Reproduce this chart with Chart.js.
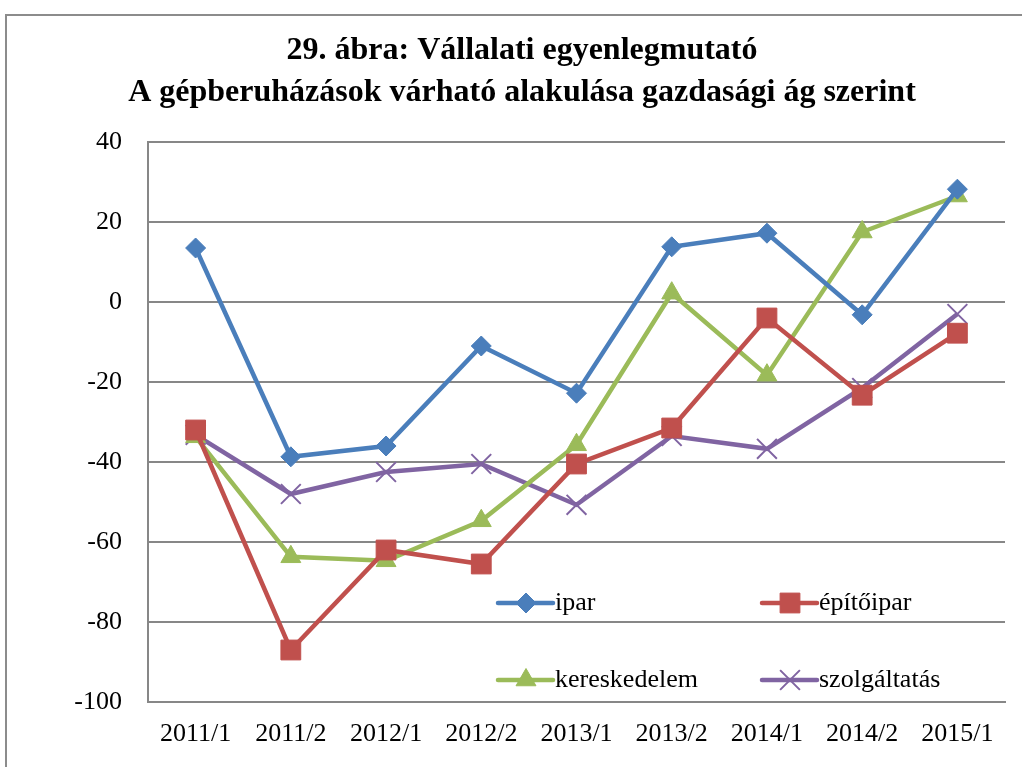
<!DOCTYPE html>
<html>
<head>
<meta charset="utf-8">
<script src="https://cdn.jsdelivr.net/npm/chart.js@4/dist/chart.umd.min.js"></script>
<style>
  html, body { margin: 0; padding: 0; background: #fff; }
  #wrap { position: relative; width: 1022px; height: 767px; }
</style>
</head>
<body>
<div id="wrap"><canvas id="chart" width="1022" height="767"></canvas></div>
<script>
// data
var categories = ['2011/1', '2011/2', '2012/1', '2012/2', '2013/1', '2013/2', '2014/1', '2014/2', '2015/1'];
var ipar = [13.5, -38.7, -36, -11, -22.8, 13.8, 17.2, -3.2, 28.2];
var epitoipar = [-32, -87, -62, -65.5, -40.5, -31.5, -4, -23.3, -7.8];
var kereskedelem = [-33.7, -63.7, -64.7, -54.7, -35.7, 2.2, -18.3, 17.5, 26.5];
var szolgaltatas = [-33.2, -48, -42.5, -40.5, -50.7, -33.5, -36.7, -21.5, -3];
var titleLines = ['29. ábra: Vállalati egyenlegmutató', 'A gépberuházások várható alakulása gazdasági ág szerint'];

var FONT = "'Liberation Serif', 'Times New Roman', serif";
var GRID = '#878787';

function series(label, data, color, style, radius, pbw) {
    return {
        label: label,
        data: data,
        borderColor: color,
        backgroundColor: color,
        borderWidth: 4.5,
        pointStyle: style,
        pointRadius: radius,
        pointHoverRadius: radius,
        pointBorderWidth: pbw,
        pointBorderColor: color,
        pointBackgroundColor: color,
        tension: 0
    };
}

// outer frame + two-line title
var framePlugin = {
    id: 'frame',
    beforeDraw: function (chart) {
        var ctx = chart.ctx;
        ctx.save();
        ctx.fillStyle = '#fff';
        ctx.fillRect(0, 0, chart.width, chart.height);
        ctx.strokeStyle = '#8c8c8c';
        ctx.lineWidth = 2;
        ctx.strokeRect(6, 15, 1040, 800);
        ctx.fillStyle = '#000';
        ctx.font = 'bold 32px ' + FONT;
        ctx.textAlign = 'center';
        ctx.textBaseline = 'middle';
        ctx.fillText(titleLines[0], 522, 51);
        ctx.fillText(titleLines[1], 522, 93);
        ctx.restore();
    }
};

// legend drawn inside the plot, 2 x 2
var legendPlugin = {
    id: 'innerLegend',
    afterDatasetsDraw: function (chart) {
        var ctx = chart.ctx;
        var spots = [[498, 603], [762, 603], [498, 680], [762, 680]];
        ctx.save();
        chart.data.datasets.forEach(function (ds, i) {
            var x = spots[i][0], y = spots[i][1];
            ctx.strokeStyle = ds.borderColor;
            ctx.lineWidth = 4.5;
            ctx.lineCap = 'round';
            ctx.beginPath();
            ctx.moveTo(x, y);
            ctx.lineTo(x + 55, y);
            ctx.stroke();
            ctx.lineCap = 'butt';
            ctx.fillStyle = ds.borderColor;
            ctx.lineWidth = ds.pointBorderWidth;
            Chart.helpers.drawPoint(ctx, {
                pointStyle: ds.pointStyle,
                radius: ds.pointRadius,
                borderWidth: ds.pointBorderWidth,
                rotation: 0
            }, x + 28, y);
            ctx.fillStyle = '#000';
            ctx.font = '26px ' + FONT;
            ctx.textBaseline = 'middle';
            ctx.textAlign = 'left';
            ctx.fillText(ds.label, x + 57, y);
        });
        ctx.restore();
    }
};

var chart = new Chart(document.getElementById('chart'), {
    type: 'line',
    data: {
        labels: categories,
        datasets: [
            series('ipar', ipar, '#4a7ebb', 'rectRot', 10, 1),
            series('építőipar', epitoipar, '#c0504d', 'rect', 14, 1),
            series('kereskedelem', kereskedelem, '#9bbb59', 'triangle', 11.5, 1),
            series('szolgáltatás', szolgaltatas, '#8064a2', 'crossRot', 14, 2)
        ]
    },
    options: {
        responsive: false,
        animation: false,
        events: [],
        layout: { padding: { left: 18, right: 17, top: 142, bottom: 0 } },
        plugins: {
            legend: { display: false },
            tooltip: { enabled: false },
            title: { display: false }
        },
        scales: {
            x: {
                offset: true,
                grid: { display: false, drawTicks: false },
                border: { display: true, color: GRID, width: 2 },
                ticks: { color: '#000', font: { family: FONT, size: 26 }, padding: 17, maxRotation: 0 },
                afterFit: function (scale) { scale.height = 65; }
            },
            y: {
                min: -100,
                max: 40,
                grid: { color: GRID, lineWidth: 2, drawTicks: false },
                border: { display: true, color: GRID, width: 2 },
                ticks: { stepSize: 20, color: '#000', font: { family: FONT, size: 26 }, padding: 26 },
                afterFit: function (scale) { scale.width = 130; }
            }
        }
    },
    plugins: [framePlugin, legendPlugin]
});
</script>
</body>
</html>
